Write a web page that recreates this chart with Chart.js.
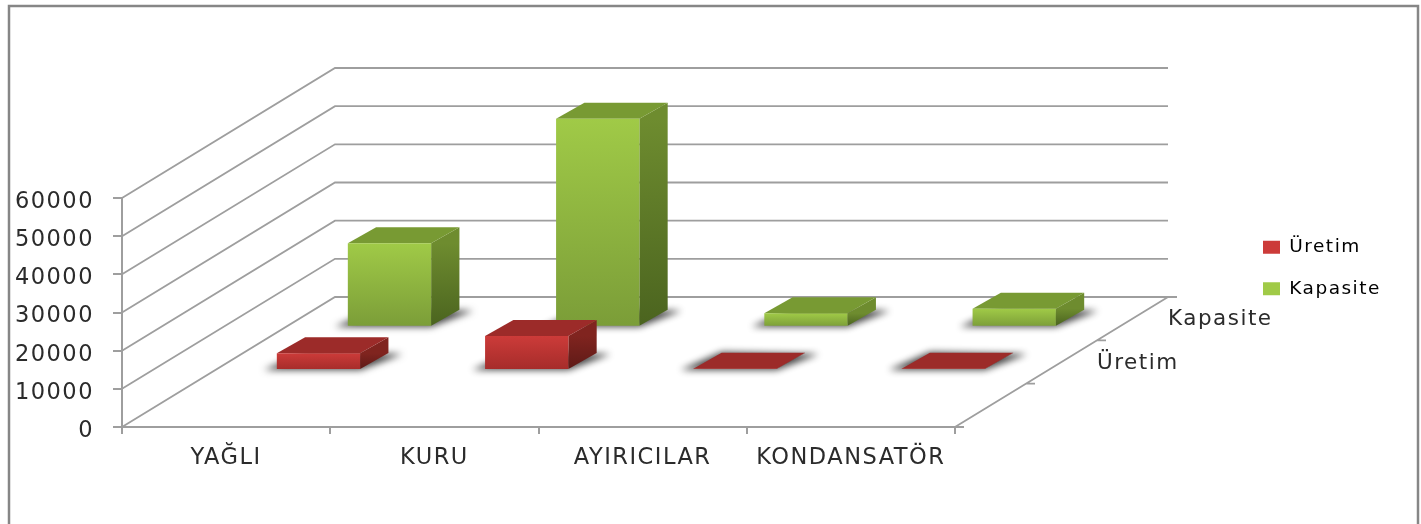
<!DOCTYPE html>
<html>
<head>
<meta charset="utf-8">
<style>
  html, body { margin: 0; background: #fff; }
  canvas { display: block; }
</style>
<script src="https://cdn.jsdelivr.net/npm/chart.js@4"></script>
</head>
<body>
<canvas id="myChart" width="1421" height="524"></canvas>
<script>
const categories = ["YAĞLI", "KURU", "AYIRICILAR", "KONDANSATÖR"];
const uretim = [4400, 8900, 300, 300];
const kapasite = [21850, 54500, 3500, 4700];
const seriesNames = ["Üretim", "Kapasite"];
const yMax = 60000;
const yStep = 10000;

// oblique projection of the floor: three depth slots, first one is empty
const slotDx = 71;
const slotDy = -43.33;
const slotCount = 3;
const boxDx = 28.3;
const boxDy = -16;
const seriesSlot = [1.5, 2.5];

const red = { top: "#cc3b39", bottom: "#a52c2a", cap: "#9c2b29", sideTop: "#80241f", sideBottom: "#5e1a17", mid: "#b93230" };
const green = { top: "#a0ca47", bottom: "#7b9d38", cap: "#789a33", sideTop: "#6e8c2f", sideBottom: "#4b641f", mid: "#8fb53f" };
const palette = [red, green];
const gridColor = "#9e9e9e";
const textColor = "#2b2b2b";
const labelFont = "DejaVu Sans";

function frontFill(c) {
  const colors = palette[c.datasetIndex];
  if (c.type !== "data" || !c.chart.chartArea) return colors.mid;
  const y = c.chart.scales.y;
  const g = c.chart.ctx.createLinearGradient(0, y.getPixelForValue(c.raw), 0, y.getPixelForValue(0));
  g.addColorStop(0, colors.top);
  g.addColorStop(1, colors.bottom);
  return g;
}

function poly(ctx, pts, fill) {
  ctx.beginPath();
  pts.forEach((p, i) => (i ? ctx.lineTo(p[0], p[1]) : ctx.moveTo(p[0], p[1])));
  ctx.closePath();
  ctx.fillStyle = fill;
  ctx.fill();
}

const walls = {
  id: "walls",
  beforeLayout(chart) {
    chart.ctx.letterSpacing = "1.5px";
  },
  afterLayout(chart) {
    // legend sits in the free space right of the plot
    const legend = chart.legend;
    legend.left = 1240;
    legend.right = 1420;
    legend.top = 215;
    legend.bottom = 420;
    legend.adjustHitBoxes();
  },
  beforeDraw(chart) {
    const ctx = chart.ctx;
    ctx.letterSpacing = "1.5px";
    // frame of the chart, its lower edge is out of the picture
    ctx.save();
    ctx.strokeStyle = "#868686";
    ctx.lineWidth = 2.5;
    ctx.strokeRect(9, 6, 1409, 540);
    ctx.restore();
  },
  beforeDatasetsDraw(chart) {
    const { ctx, scales: { y }, chartArea: area } = chart;
    const backDx = slotDx * slotCount;
    const backDy = slotDy * slotCount;
    ctx.save();
    ctx.strokeStyle = gridColor;
    ctx.lineWidth = 1.8;
    ctx.beginPath();
    y.ticks.forEach((t) => {
      const py = y.getPixelForValue(t.value);
      ctx.moveTo(area.left, py);
      ctx.lineTo(area.left + backDx, py + backDy);
      ctx.lineTo(area.right + backDx, py + backDy);
    });
    // right edge of the floor with its depth ticks
    ctx.moveTo(area.right, area.bottom);
    ctx.lineTo(area.right + backDx, area.bottom + backDy);
    for (let i = 0; i <= slotCount; i++) {
      const ex = area.right + slotDx * i;
      const ey = area.bottom + slotDy * i;
      ctx.moveTo(ex, ey);
      ctx.lineTo(ex + 9, ey);
    }
    ctx.stroke();
    ctx.restore();
  },
  beforeDatasetDraw(chart, args) {
    const ctx = chart.ctx;
    const colors = palette[args.index];
    const slot = seriesSlot[args.index];
    ctx.save();
    ctx.translate(slotDx * slot - boxDx / 2, slotDy * slot - boxDy / 2);
    args.meta.data.forEach((bar) => {
      const x0 = bar.x - bar.width / 2;
      const x1 = bar.x + bar.width / 2;
      const top = bar.y;
      const base = bar.base;
      // soft ground shadow: the shape itself is off canvas, only its blur lands here
      const off = 3000;
      ctx.save();
      ctx.shadowColor = "rgba(70,70,70,1)";
      ctx.shadowBlur = 7;
      ctx.shadowOffsetX = off;
      poly(ctx, [
        [x0 - 13 - off, base + 1],
        [x1 - off, base + 1],
        [x1 + boxDx + 14 - off, base + boxDy + 1],
        [x0 + boxDx - off, base + boxDy - 1],
      ], "#000");
      ctx.restore();
      // side and cap of the box
      const sg = ctx.createLinearGradient(0, top, 0, base);
      sg.addColorStop(0, colors.sideTop);
      sg.addColorStop(1, colors.sideBottom);
      poly(ctx, [[x1, top], [x1 + boxDx, top + boxDy], [x1 + boxDx, base + boxDy], [x1, base]], sg);
      poly(ctx, [[x0, top], [x0 + boxDx, top + boxDy], [x1 + boxDx, top + boxDy], [x1, top]], colors.cap);
    });
  },
  afterDatasetDraw(chart) {
    chart.ctx.restore();
  },
  afterDraw(chart) {
    const { ctx, chartArea: area } = chart;
    ctx.save();
    ctx.font = "21.5px '" + labelFont + "'";
    ctx.fillStyle = textColor;
    ctx.textBaseline = "middle";
    ctx.textAlign = "left";
    seriesNames.forEach((name, i) => {
      const slot = seriesSlot[i];
      ctx.fillText(name, area.right + slotDx * slot + 35.5, area.bottom + slotDy * slot + 1);
    });
    ctx.restore();
  },
};

new Chart(document.getElementById("myChart"), {
  type: "bar",
  plugins: [walls],
  data: {
    labels: categories,
    datasets: [
      { label: seriesNames[0], data: uretim, backgroundColor: frontFill, clip: false },
      { label: seriesNames[1], data: kapasite, backgroundColor: frontFill, clip: false },
    ],
  },
  options: {
    responsive: false,
    animation: false,
    layout: { padding: { top: 198, right: 466, left: 0, bottom: 0 } },
    datasets: { bar: { grouped: false, categoryPercentage: 1, barPercentage: 0.4 } },
    scales: {
      x: {
        afterFit: (s) => { s.height = 97; },
        border: { color: gridColor, width: 2 },
        grid: { drawOnChartArea: false, color: gridColor, lineWidth: 2, tickLength: 7 },
        ticks: { color: textColor, padding: 11, maxRotation: 0, autoSkip: false, font: { family: labelFont, size: 22.5 } },
      },
      y: {
        min: 0,
        max: yMax,
        afterFit: (s) => { s.width = 122; },
        border: { color: gridColor, width: 2 },
        grid: { drawOnChartArea: false, color: gridColor, lineWidth: 2, tickLength: 9 },
        ticks: {
          stepSize: yStep,
          color: textColor,
          padding: 19,
          labelOffset: 4,
          format: { useGrouping: false },
          font: { family: labelFont, size: 22.5 },
        },
      },
    },
    plugins: {
      tooltip: { enabled: false },
      legend: {
        position: "chartArea",
        align: "start",
        labels: { boxWidth: 17, boxHeight: 13, padding: 23, color: "#000", font: { family: labelFont, size: 18.5 } },
      },
    },
  },
});
</script>
</body>
</html>
